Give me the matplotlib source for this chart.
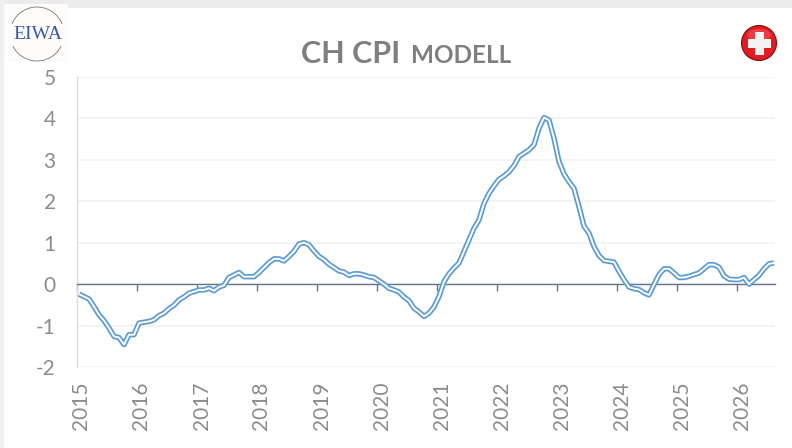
import matplotlib
matplotlib.use("Agg")
from matplotlib import pyplot as plt
from matplotlib.patches import Rectangle, Circle, Ellipse

years = ["2015", "2016", "2017", "2018", "2019", "2020", "2021", "2022", "2023", "2024", "2025", "2026"]
y_ticks = [-2, -1, 0, 1, 2, 3, 4, 5]

# monatswerte ab jan 2015
cpi_2015 = [-0.24, -0.30, -0.36, -0.54, -0.74, -0.88, -1.06, -1.26, -1.29, -1.46, -1.22, -1.22]
cpi_2016 = [-0.94, -0.92, -0.90, -0.86, -0.76, -0.70, -0.59, -0.51, -0.38, -0.31, -0.22, -0.18]
cpi_2017 = [-0.14, -0.14, -0.10, -0.16, -0.07, -0.03, 0.16, 0.22, 0.28, 0.18, 0.18, 0.18]
cpi_2018 = [0.28, 0.40, 0.52, 0.61, 0.61, 0.56, 0.67, 0.79, 0.97, 1.00, 0.95, 0.80]
cpi_2019 = [0.67, 0.59, 0.48, 0.40, 0.32, 0.29, 0.21, 0.25, 0.25, 0.22, 0.18, 0.16]
cpi_2020 = [0.08, 0.00, -0.10, -0.14, -0.19, -0.31, -0.40, -0.58, -0.67, -0.78, -0.70, -0.55]
cpi_2021 = [-0.30, 0.06, 0.25, 0.39, 0.51, 0.79, 1.07, 1.35, 1.55, 1.95, 2.19, 2.37]
cpi_2022 = [2.53, 2.61, 2.71, 2.86, 3.08, 3.16, 3.24, 3.36, 3.76, 4.02, 3.96, 3.52]
cpi_2023 = [2.96, 2.66, 2.47, 2.31, 1.87, 1.40, 1.23, 0.91, 0.69, 0.57, 0.55, 0.53]
cpi_2024 = [0.31, 0.11, -0.07, -0.11, -0.13, -0.21, -0.26, -0.01, 0.23, 0.37, 0.37, 0.27]
cpi_2025 = [0.16, 0.16, 0.19, 0.23, 0.27, 0.37, 0.47, 0.47, 0.41, 0.20, 0.12, 0.11]
cpi_2026 = [0.11, 0.16, 0.00, 0.11, 0.21, 0.37, 0.49, 0.51]

cpi = (cpi_2015 + cpi_2016 + cpi_2017 + cpi_2018 + cpi_2019 + cpi_2020
       + cpi_2021 + cpi_2022 + cpi_2023 + cpi_2024 + cpi_2025 + cpi_2026)
months = range(len(cpi))

W, H = 792, 448
plt.rcParams["font.family"] = ["Lato", "DejaVu Sans"]
plt.rcParams["axes.unicode_minus"] = False
gray_text = "#8c8c8c"

fig = plt.figure(figsize=(W / 100, H / 100), dpi=100, facecolor="white")

# pixel-ebene fuer streifen, logo und flagge
deco = fig.add_axes([0, 0, 1, 1], facecolor="none", zorder=0)
deco.set_xlim(0, W)
deco.set_ylim(H, 0)
deco.axis("off")
deco.add_patch(Rectangle((0, 0), W, 8, color="#ececec", lw=0))
deco.add_patch(Rectangle((0, 0), 4, H, color="#efefef", lw=0))
deco.add_patch(Rectangle((4, 4), 64, 58, color="#fdfcfa", lw=0))
deco.add_patch(Circle((37, 34), 27, fill=False, ec="#777777", lw=0.6))
deco.add_patch(Rectangle((8, 24), 60, 22, color="#fdfcfa", lw=0))
deco.text(38, 34.5, "EIWA", family="Liberation Serif", fontsize=14, color="#3b5a9a", ha="center", va="center")
deco.add_patch(Circle((759, 43), 17.5, color="#e11b22", ec="#7a1015", lw=0.8))
deco.add_patch(Ellipse((759, 35), 24, 12, color="#f2555a", lw=0, alpha=0.6))
deco.add_patch(Rectangle((754.5, 32), 9, 23, color="#f4f4f4", lw=0))
deco.add_patch(Rectangle((747.5, 39), 23, 9, color="#f4f4f4", lw=0))

ax = fig.add_axes([76.5 / W, 1 - 367 / H, (775 - 76.5) / W, (367 - 77) / H], facecolor="none", zorder=1)
ax.set_xlim(-0.5, 139.2)
ax.set_ylim(-2, 5)
ax.set_yticks(y_ticks)
ax.grid(axis="y", color="#f2f2f2", lw=1.3)
ax.set_axisbelow(True)

for s in ["top", "right"]:
    ax.spines[s].set_visible(False)
ax.spines["left"].set_color("#dcdcdc")
ax.spines["left"].set_linewidth(1.0)
ax.spines["bottom"].set_position(("data", 0))
ax.spines["bottom"].set_color("#66758c")
ax.spines["bottom"].set_linewidth(1.0)

ax.tick_params(axis="y", length=0, labelsize=15, labelcolor=gray_text, pad=15)
ax.set_xticks([12 * i - 0.5 for i in range(len(years))])
ax.tick_params(axis="x", length=5, width=1.0, color="#66758c", labelbottom=False)

# doppellinie: breit blau, weisser kern
ax.plot(months, cpi, color="#5b9bd5", lw=3.9, solid_joinstyle="round", solid_capstyle="butt", zorder=3)
ax.plot(months, cpi, color="white", lw=1.4, solid_joinstyle="round", solid_capstyle="butt", zorder=4)

for i, year in enumerate(years):
    ax.text(12 * i + 0.5, -2.35, year, rotation=90, ha="center", va="top", fontsize=15, color=gray_text)

# titel
fig.text(301 / W, 1 - 63 / H, "CH CPI", fontsize=22, fontweight="bold", color="#7f7f7f", ha="left", va="baseline")
fig.text(411 / W, 1 - 63 / H, "MODELL", fontsize=17.5, fontweight="bold", color="#7f7f7f", ha="left", va="baseline")

fig.savefig("out.png", dpi=100)
